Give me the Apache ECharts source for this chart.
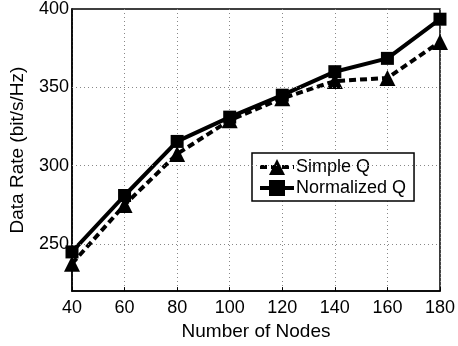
<!DOCTYPE html>
<html>
<head>
<meta charset="utf-8">
<script src="https://cdn.jsdelivr.net/npm/echarts@6/dist/echarts.min.js"></script>
<style>html,body{margin:0;padding:0;background:#fff;}#c{width:458px;height:346px;}</style>
</head>
<body>
<div id="c"></div>
<script>
const nodes = [40, 60, 80, 100, 120, 140, 160, 180];
const simpleQ = [237.5, 275, 307.5, 329, 343, 354, 356, 379];
const normalizedQ = [245, 281, 315.5, 331, 345, 360, 368.5, 393.5];
const yGridValues = [250, 300, 350];
const seriesNames = ['Simple Q', 'Normalized Q'];

const font = 'Liberation Sans, Arial, Helvetica, sans-serif';
const chart = echarts.init(document.getElementById('c'), null, {renderer: 'canvas'});
chart.setOption({
  animation: false,
  backgroundColor: '#fff',
  grid: {left: 72, right: 15, top: 9, bottom: 49, show: true, borderColor: '#000', borderWidth: 1.5, backgroundColor: 'transparent'},
  legend: {
    orient: 'vertical', left: 252, top: 153,
    data: seriesNames,
    backgroundColor: '#fff', borderColor: '#000', borderWidth: 1.5,
    padding: [5, 8, 4, 6], itemGap: 3, itemWidth: 34, itemHeight: 20,
    lineStyle: {width: 4},
    textStyle: {fontFamily: font, fontSize: 18, color: '#000', padding: [0, 0, 0, -3]}
  },
  xAxis: {
    type: 'value', min: 40, max: 180, interval: 20,
    name: 'Number of Nodes', nameLocation: 'middle', nameGap: 28,
    nameTextStyle: {fontFamily: font, fontSize: 19, color: '#000'},
    axisLine: {show: true, lineStyle: {color: '#000', width: 1.5}},
    axisTick: {show: true, inside: true, length: 4, lineStyle: {color: '#000'}},
    axisLabel: {fontFamily: font, fontSize: 18, color: '#000', margin: 8},
    splitLine: {show: true, lineStyle: {color: '#888', type: [1, 3], width: 1}}
  },
  yAxis: {
    type: 'value', min: 220, max: 400, interval: 10,
    name: 'Data Rate (bit/s/Hz)', nameLocation: 'middle', nameGap: 45,
    nameTextStyle: {fontFamily: font, fontSize: 19, color: '#000'},
    axisLine: {show: true, lineStyle: {color: '#000', width: 1.5}},
    axisTick: {show: false},
    axisLabel: {fontFamily: font, fontSize: 18, color: '#000', margin: 3,
      formatter: v => (v % 50 === 0 ? String(v) : '')},
    splitLine: {show: false}
  },
  series: [
    {
      name: seriesNames[0], type: 'line',
      data: nodes.map((x, i) => [x, simpleQ[i]]),
      symbol: 'triangle', symbolSize: 16,
      itemStyle: {color: '#000'},
      lineStyle: {color: '#000', width: 4, type: [7, 4]},
      markLine: {
        silent: true, symbol: 'none', label: {show: false},
        lineStyle: {color: '#888', type: [1, 3], width: 1},
        data: yGridValues.map(v => ({yAxis: v}))
      },
      z: 3
    },
    {
      name: seriesNames[1], type: 'line',
      data: nodes.map((x, i) => [x, normalizedQ[i]]),
      symbol: 'rect', symbolSize: 13,
      itemStyle: {color: '#000'},
      lineStyle: {color: '#000', width: 4},
      z: 4
    }
  ]
});
</script>
</body>
</html>
